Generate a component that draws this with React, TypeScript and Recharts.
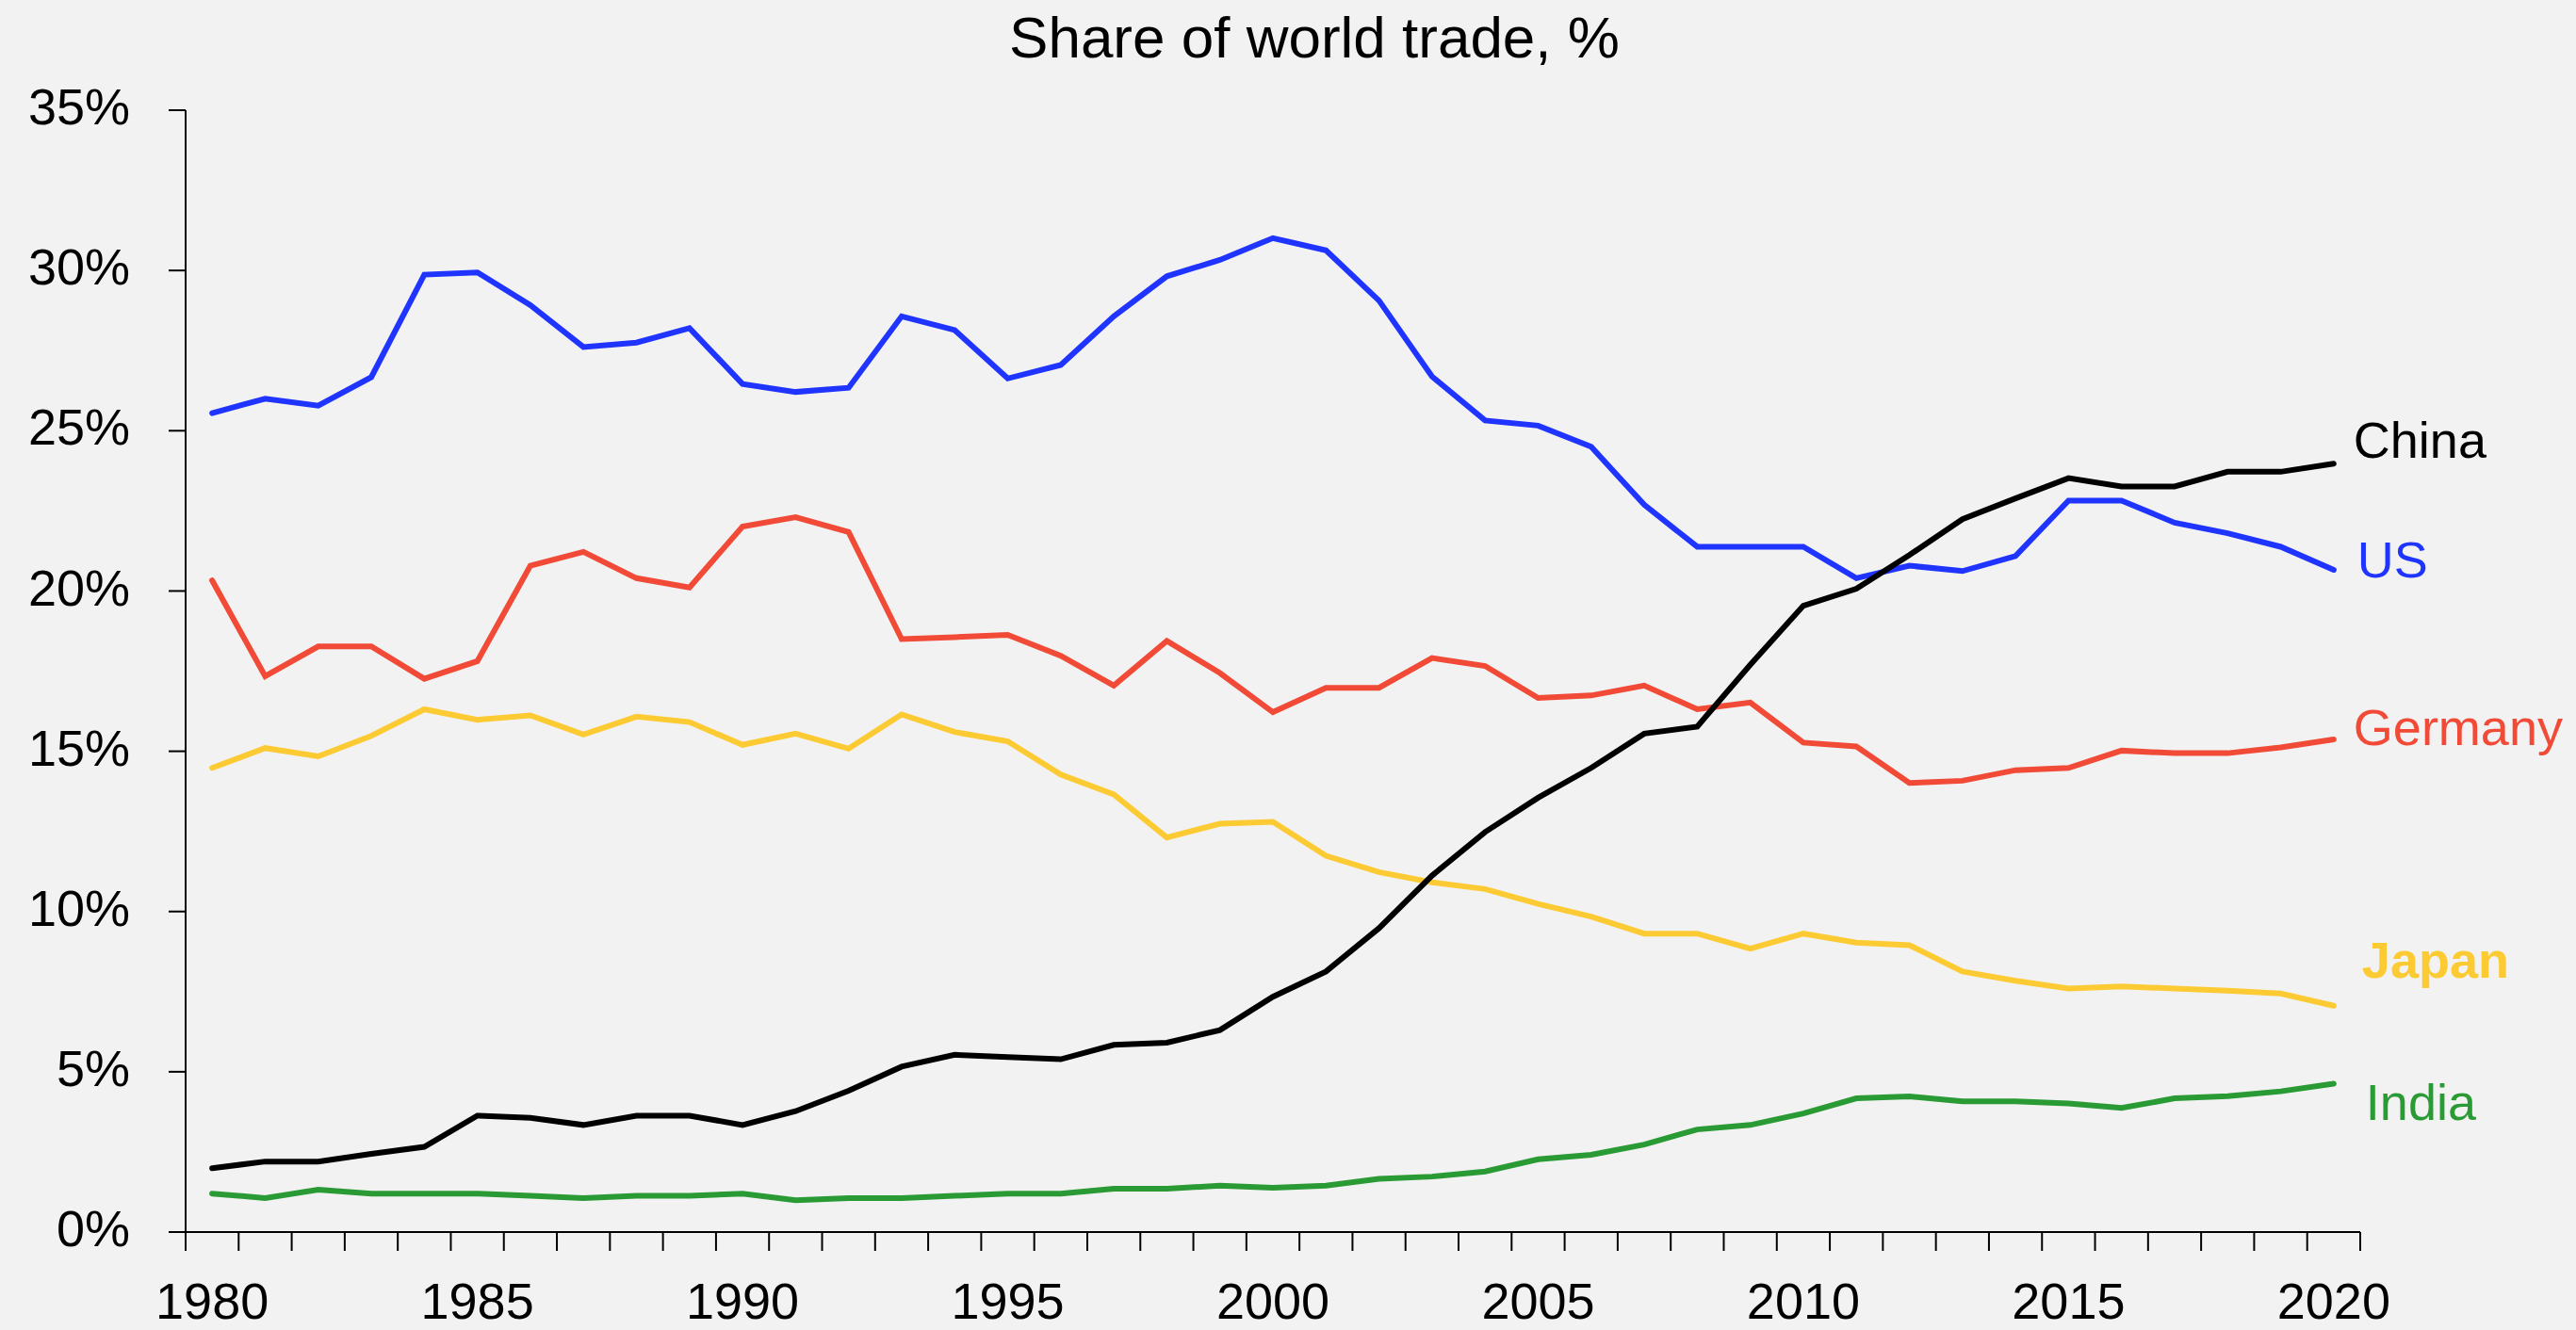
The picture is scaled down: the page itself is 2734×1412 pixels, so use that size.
import { LineChart, Line, XAxis, YAxis } from 'recharts'

const YEARS = [
  1980, 1981, 1982, 1983, 1984, 1985, 1986, 1987, 1988, 1989,
  1990, 1991, 1992, 1993, 1994, 1995, 1996, 1997, 1998, 1999,
  2000, 2001, 2002, 2003, 2004, 2005, 2006, 2007, 2008, 2009,
  2010, 2011, 2012, 2013, 2014, 2015, 2016, 2017, 2018, 2019, 2020,
]

// share of world trade, %
const US = [
  25.55, 26.0, 25.78, 26.67, 29.87, 29.94, 28.92, 27.61, 27.75, 28.2,
  26.46, 26.21, 26.34, 28.57, 28.14, 26.63, 27.05, 28.57, 29.82, 30.33,
  31.01, 30.63, 29.06, 26.69, 25.32, 25.16, 24.5, 22.69, 21.38, 21.38,
  21.38, 20.4, 20.79, 20.62, 21.09, 22.82, 22.82, 22.13, 21.8, 21.38, 20.66,
]
const GERMANY = [
  20.33, 17.34, 18.27, 18.27, 17.26, 17.81, 20.79, 21.22, 20.4, 20.11,
  22.01, 22.3, 21.84, 18.5, 18.56, 18.63, 17.98, 17.05, 18.44, 17.44,
  16.22, 16.98, 16.98, 17.91, 17.66, 16.66, 16.74, 17.05, 16.31, 16.52,
  15.27, 15.15, 14.01, 14.08, 14.41, 14.48, 15.02, 14.94, 14.94, 15.12, 15.37,
]
const JAPAN = [
  14.48, 15.1, 14.84, 15.48, 16.31, 15.98, 16.12, 15.52, 16.08, 15.91,
  15.2, 15.55, 15.08, 16.15, 15.6, 15.31, 14.27, 13.65, 12.31, 12.74,
  12.8, 11.74, 11.23, 10.91, 10.7, 10.24, 9.84, 9.31, 9.31, 8.84,
  9.31, 9.03, 8.95, 8.13, 7.84, 7.6, 7.66, 7.6, 7.53, 7.44, 7.06,
]
const CHINA = [
  1.99, 2.2, 2.2, 2.44, 2.66, 3.63, 3.56, 3.34, 3.63, 3.63,
  3.34, 3.77, 4.41, 5.16, 5.53, 5.46, 5.39, 5.84, 5.91, 6.3,
  7.34, 8.13, 9.48, 11.12, 12.48, 13.55, 14.48, 15.55, 15.77, 17.7,
  19.54, 20.07, 21.12, 22.24, 22.89, 23.52, 23.26, 23.26, 23.72, 23.72, 23.97,
]
const INDIA = [
  1.2, 1.06, 1.32, 1.2, 1.2, 1.2, 1.13, 1.06, 1.13, 1.13,
  1.2, 0.99, 1.06, 1.06, 1.13, 1.2, 1.2, 1.35, 1.35, 1.45,
  1.38, 1.45, 1.66, 1.73, 1.89, 2.27, 2.41, 2.73, 3.2, 3.34,
  3.7, 4.17, 4.23, 4.08, 4.08, 4.01, 3.87, 4.17, 4.24, 4.39, 4.63,
]

const Y_TICKS = [0, 5, 10, 15, 20, 25, 30, 35]
const LABEL_YEARS = [1980, 1985, 1990, 1995, 2000, 2005, 2010, 2015, 2020]

const data = YEARS.map((year, i) => ({
  year,
  us: US[i],
  germany: GERMANY[i],
  japan: JAPAN[i],
  china: CHINA[i],
  india: INDIA[i],
}))

const W = 2734
const H = 1412
const Y_AXIS_W = 197
const X_AXIS_H = 104
const MARGIN = { top: 117, right: 229, bottom: 0, left: 0 }
const PLOT_W = W - Y_AXIS_W - MARGIN.right
const HALF_BAND = PLOT_W / YEARS.length / 2
const FONT = '"Liberation Sans", Arial, Helvetica, sans-serif'

// tick marks sit between the years
const X_TICKS = [...YEARS.map((y) => y - 0.5), YEARS[YEARS.length - 1] + 0.5]

const SERIES = [
  { key: 'india', name: 'India', color: '#2a9a35', dx: 34, dy: 39, bold: false },
  { key: 'japan', name: 'Japan', color: '#fcca33', dx: 30, dy: -30, bold: true },
  { key: 'germany', name: 'Germany', color: '#f14a37', dx: 21, dy: 6, bold: false },
  { key: 'us', name: 'US', color: '#2034ff', dx: 25, dy: 8, bold: false },
  { key: 'china', name: 'China', color: '#000000', dx: 21, dy: -6, bold: false },
]

function YearTick({ x, y, payload }: any) {
  const year = payload.value + 0.5
  if (!LABEL_YEARS.includes(year)) return <g />
  return (
    <text x={x + HALF_BAND} y={y} dy="0.71em" textAnchor="middle" fill="#000" fontSize={54} fontFamily={FONT}>
      {year}
    </text>
  )
}

function PctTick({ x, y, payload }: any) {
  return (
    <text x={x} y={y - 4} dy="0.355em" textAnchor="end" fill="#000" fontSize={54} fontFamily={FONT}>
      {`${payload.value}%`}
    </text>
  )
}

function endLabel(s: (typeof SERIES)[number]) {
  return (props: any) => {
    if (props.index !== YEARS.length - 1) return <g key={props.index} />
    return (
      <text
        key={props.index}
        x={props.x + s.dx}
        y={props.y + s.dy}
        fill={s.color}
        fontSize={54}
        fontWeight={s.bold ? 'bold' : 'normal'}
        fontFamily={FONT}
      >
        {s.name}
      </text>
    )
  }
}

export default function App() {
  return (
    <div style={{ position: 'absolute', left: 0, top: 0, width: W, height: H, background: '#f2f2f2' }}>
      <LineChart width={W} height={H} data={data} margin={MARGIN}>
        <XAxis
          dataKey="year"
          type="number"
          domain={[X_TICKS[0], X_TICKS[X_TICKS.length - 1]]}
          ticks={X_TICKS}
          interval={0}
          height={X_AXIS_H}
          tickSize={20}
          tickMargin={34}
          tick={<YearTick />}
          axisLine={{ stroke: '#000', strokeWidth: 2 }}
          tickLine={{ stroke: '#000', strokeWidth: 2 }}
        />
        <YAxis
          domain={[0, 35]}
          ticks={Y_TICKS}
          interval={0}
          width={Y_AXIS_W}
          tickSize={18}
          tickMargin={41}
          tick={<PctTick />}
          axisLine={{ stroke: '#000', strokeWidth: 2 }}
          tickLine={{ stroke: '#000', strokeWidth: 2 }}
        />
        {SERIES.map((s) => (
          <Line
            key={s.key}
            dataKey={s.key}
            name={s.name}
            type="linear"
            stroke={s.color}
            strokeWidth={6}
            strokeLinecap="round"
            dot={false}
            activeDot={false}
            isAnimationActive={false}
            label={endLabel(s)}
          />
        ))}
      </LineChart>
      <svg width={W} height={100} style={{ position: 'absolute', left: 0, top: 0, pointerEvents: 'none' }}>
        <text x={1395} y={61} textAnchor="middle" fontSize={62} fontFamily={FONT} fill="#000">
          Share of world trade, %
        </text>
      </svg>
    </div>
  )
}
